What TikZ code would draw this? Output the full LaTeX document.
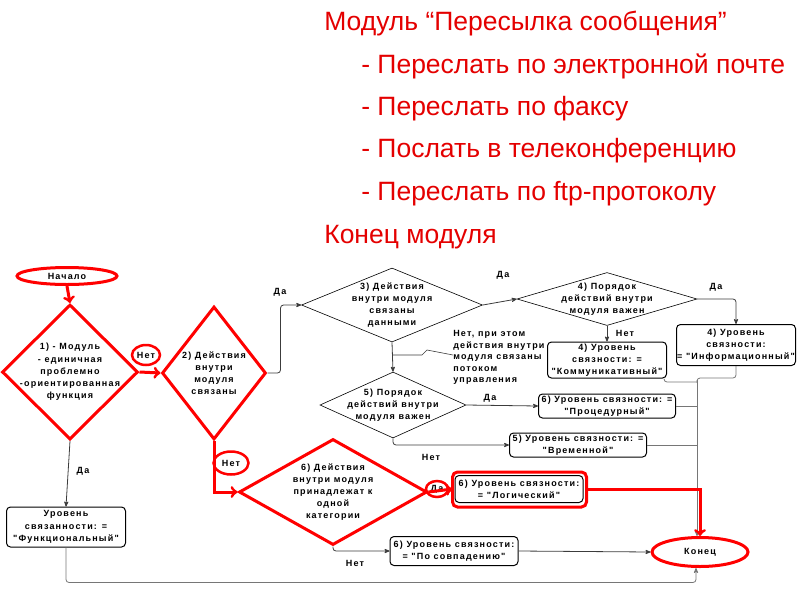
\documentclass[tikz,border=0pt]{standalone}
\usepackage{fontspec}
\setmainfont{Liberation Sans}
\newfontfamily\flowfont[LetterSpace=13]{Liberation Sans}
\usetikzlibrary{arrows,shapes,positioning}
\definecolor{titlered}{RGB}{228,0,0}
\definecolor{linkgray}{RGB}{60,60,60}

\begin{document}
\begin{tikzpicture}[x=1pt,y=-1pt,>=stealth',semithick,
    title/.style={font=\fontsize{26.5}{30}\selectfont,text=titlered,inner sep=0pt},
    flow/.style={font=\flowfont\bfseries\fontsize{9}{12.2}\selectfont,align=center,inner sep=0pt},
    dia/.style={shape=diamond,draw=black,inner sep=0pt},
    reddia/.style={dia,draw=red,line width=3pt},
    levelbox/.style={flow,draw=black,rounded corners=4pt,line width=1pt},
    term/.style={flow,ellipse,draw=red,line width=3pt,inner sep=0pt},
    redring/.style={flow,ellipse,draw=red,line width=2.5pt,inner sep=0pt},
    link/.style={->,draw=linkgray,line width=0.8pt},
    feed/.style={draw=linkgray!70,line width=0.8pt,rounded corners=3pt},
    redarrow/.style={->,>=to,draw=red,line width=3pt}]
\useasboundingbox(0,0)rectangle(800,600);

\node[title,anchor=base west](mod)at(324,30){Модуль “Пересылка сообщения”};
\node[title,anchor=base west](fwd1)at(361,73){- Переслать по электронной почте};
\node[title,anchor=base west](fwd2)at(361,115){- Переслать по факсу};
\node[title,anchor=base west](fwd3)at(361,157){- Послать в телеконференцию};
\node[title,anchor=base west](fwd4)at(361,200){- Переслать по ftp-протоколу};
\node[title,anchor=base west](modend)at(324,243){Конец модуля};

\node[term,minimum width=100pt,minimum height=17pt](start)at(67,276){Начало};
\node[reddia,minimum width=136pt,minimum height=135pt,label={[flow]center:1) - Модуль\\- единичная\\проблемно\\-ориентированная\\функция}](d1)at(70,372){};
\node[reddia,minimum width=104pt,minimum height=133pt,label={[flow]center:2) Действия\\внутри\\модуля\\связаны}](d2)at(214,373){};
\node[dia,minimum width=181pt,minimum height=74pt,label={[flow]center:3) Действия\\внутри модуля\\связаны\\данными}](d3)at(392,305){};
\node[dia,minimum width=180pt,minimum height=53pt,label={[flow]center:4) Порядок\\действий внутри\\модуля важен}](d4)at(607,299){};
\node[dia,minimum width=146pt,minimum height=66pt,label={[flow]center:5) Порядок\\действий внутри\\модуля важен}](d5)at(393,405){};
\node[reddia,minimum width=188pt,minimum height=106pt,label={[flow]center:6) Действия\\внутри модуля\\принадлежат к\\одной\\категории}](d6)at(333,492){};

\node[levelbox,minimum width=119pt,minimum height=40pt](func)at(66,527){Уровень\\связанности: =\\"Функциональный"};
\node[levelbox,minimum width=119pt,minimum height=41pt](info)at(736,345){4) Уровень\\связности:\\= "Информационный"};
\node[levelbox,minimum width=119pt,minimum height=36pt](kommun)at(607,360){4) Уровень\\связности: =\\"Коммуникативный"};
\node[levelbox,minimum width=137pt,minimum height=24pt](proc)at(607,406){6) Уровень связности: =\\"Процедурный"};
\node[levelbox,minimum width=137pt,minimum height=24pt](vremen)at(578,445){5) Уровень связности: =\\"Временной"};
\node[levelbox,minimum width=128pt,minimum height=27pt](logic)at(519,489){6) Уровень связности:\\= "Логический"};
\node[levelbox,minimum width=128pt,minimum height=29pt](sovpad)at(454,551){6) Уровень связности:\\= "По совпадению"};
\node[term,minimum width=96pt,minimum height=29pt](konec)at(700,552){Конец};
\draw[red,line width=3pt,rounded corners=5pt]([shift={(-2pt,3pt)}]logic.north west)rectangle([shift={(3pt,-4pt)}]logic.south east);

\node[flow,anchor=north west,align=left,font=\flowfont\bfseries\fontsize{9}{11.6}\selectfont](ctrl)at(453,330){Нет, при этом\\действия внутри\\модуля связаны\\потоком\\управления};
\node[redring,minimum width=28pt,minimum height=20pt](no1)at(146,355){Нет};
\node[redring,minimum width=35pt,minimum height=23pt](no2)at(231,463){Нет};
\node[redring,minimum width=22pt,minimum height=16pt](yes6)at(437,489){Да};
\node[flow](yes1)at(83,471){Да};
\node[flow](yes2)at(280,292){Да};
\node[flow](yes3)at(503,275){Да};
\node[flow](yes4)at(716,287){Да};
\node[flow](no4)at(625,333){Нет};
\node[flow](yes5)at(490,398){Да};
\node[flow](no5)at(431,457){Нет};
\node[flow](no6)at(355,563){Нет};

\coordinate(colTop)at(697,380);
\coordinate(lead)at(393,355);

\draw[link](d1.south)--(func.north);
\draw[link,rounded corners=3pt](d2.east)--++(13,0)|-(d3.west);
\draw[link](d3.east)--(d4.west);
\draw[link,rounded corners=3pt](d4.east)-|(info.north);
\draw[link](d4.south)--(kommun.north);
\draw[link](d3.south)--(d5.north);
\draw[draw=linkgray,line width=0.6pt](lead)--++(29,0)--++(5,-5)--(lead -| ctrl.west);
\draw[link](d5.east)--(proc.west);
\draw[link,rounded corners=3pt](d5.south)|-(vremen.west);
\draw[link,rounded corners=3pt](d6.south)|-(sovpad.west);
\draw[link](sovpad.east)--(konec.west);
\draw[link,draw=linkgray!70,rounded corners=3pt](func.south)--++(0,35)-|([xshift=-4pt]konec.south);
\draw[feed](info.south)--++(0,12)-|(colTop);
\draw[feed]([xshift=-3pt]kommun.south east)|-([yshift=-2pt]colTop);
\draw[feed](proc.east)--(proc.east -| colTop);
\draw[feed](vremen.east)--(vremen.east -| colTop);
\draw[link,draw=linkgray!70](colTop)--(konec.north -| colTop);

\draw[redarrow](start.south)--(d1.north);
\draw[redarrow](d1.east)--(d2.west);
\draw[redarrow](d2.south)|-(d6.west);
\draw[redarrow](d6.east)--([xshift=-2pt]logic.west);
\draw[redarrow]([xshift=3pt]logic.east)-|(konec.north);
\end{tikzpicture}
\end{document}
